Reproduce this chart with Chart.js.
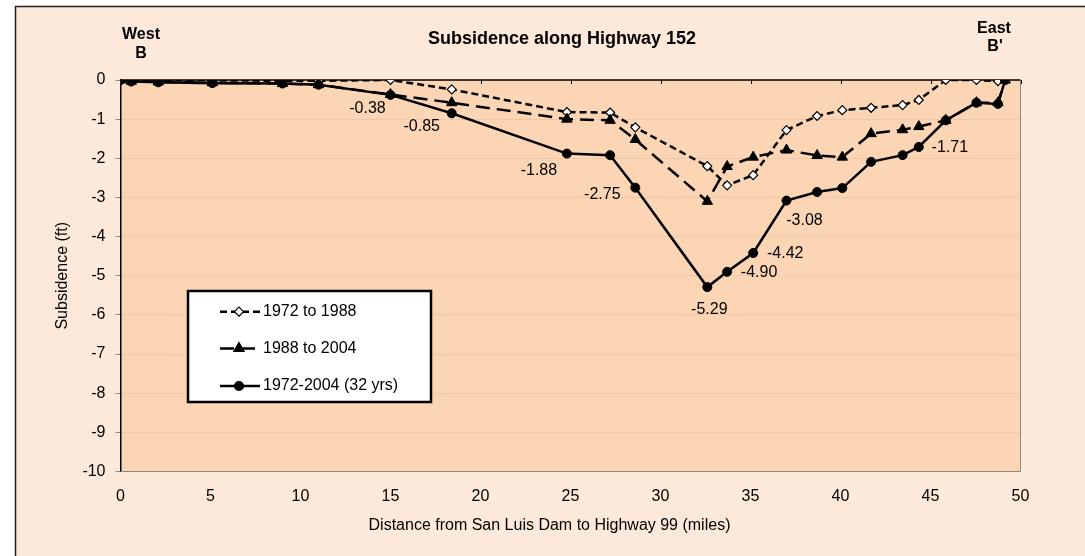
<!DOCTYPE html>
<html><head><meta charset="utf-8">
<script src="https://cdn.jsdelivr.net/npm/chart.js@4.4.0/dist/chart.umd.min.js"></script>
<style>html,body{margin:0;padding:0;background:#fff}canvas{display:block}</style>
</head><body>
<canvas id="c" width="1085" height="556"></canvas>
<script>
// ---------- data ----------
const distances = [0, 0.6, 2.1, 5.1, 9.0, 11.0, 15.0, 18.4, 24.8, 27.2, 28.6, 32.6, 33.7, 35.15, 37.0, 38.7, 40.1, 41.7, 43.45, 44.35, 45.85, 47.55, 48.75, 49.15];
const s1972to1988 = [0, 0, -0.01, -0.01, -0.02, -0.02, 0, -0.24, -0.82, -0.83, -1.21, -2.20, -2.69, -2.43, -1.28, -0.92, -0.77, -0.71, -0.64, -0.51, 0, 0, -0.03, 0];
const s1988to2004 = [0, -0.03, -0.05, -0.07, -0.09, -0.12, -0.37, -0.58, -1.00, -1.03, -1.52, -3.10, -2.21, -1.97, -1.79, -1.93, -1.97, -1.37, -1.27, -1.19, -1.03, -0.58, -0.58, 0];
const s1972to2004 = [0, -0.04, -0.06, -0.08, -0.09, -0.12, -0.38, -0.85, -1.88, -1.92, -2.75, -5.29, -4.90, -4.42, -3.08, -2.86, -2.76, -2.09, -1.92, -1.71, -1.03, -0.58, -0.61, 0];
const seriesNames = ['1972 to 1988', '1988 to 2004', '1972-2004 (32 yrs)'];
const xTickValues = [0, 5, 10, 15, 20, 25, 30, 35, 40, 45, 50];
const yTickValues = [0, -1, -2, -3, -4, -5, -6, -7, -8, -9, -10];
const chartTitle = 'Subsidence along Highway 152';
const xAxisTitle = 'Distance from San Luis Dam to Highway 99 (miles)';
const yAxisTitle = 'Subsidence (ft)';
const westLabel = ['West', 'B'];
const eastLabel = ['East', "B'"];
const labeledPoints = [6, 7, 8, 10, 11, 12, 13, 14, 19];

// ---------- styling ----------
const FONT = "'Liberation Sans', Arial, Helvetica, sans-serif";
Chart.defaults.font.family = FONT;
Chart.defaults.font.size = 16;
Chart.defaults.color = '#000';
const labelOffsets = {6:[-23,14],7:[-30,13],8:[-28,17],10:[-33,7],11:[2,22],12:[32,1],13:[32,1],14:[18,20],19:[31,1]};

function pts(arr){ return distances.map((d,i)=>({x:d, y:arr[i]})); }

function drawMarker(ctx, style, r, x, y, fill){
  ctx.save();
  ctx.fillStyle = fill; ctx.strokeStyle = '#000'; ctx.lineWidth = 1.2; ctx.setLineDash([]);
  ctx.beginPath();
  if (style === 'circle') { ctx.arc(x, y, r, 0, Math.PI*2); }
  else if (style === 'triangle') {
    for (let k=0;k<3;k++){ const a = k*2*Math.PI/3; const px = x + Math.sin(a)*r, py = y - Math.cos(a)*r; k?ctx.lineTo(px,py):ctx.moveTo(px,py); }
    ctx.closePath();
  } else { ctx.moveTo(x, y-r); ctx.lineTo(x+r, y); ctx.lineTo(x, y+r); ctx.lineTo(x-r, y); ctx.closePath(); }
  ctx.fill(); ctx.stroke();
  ctx.restore();
}

const deco = {
  id: 'deco',
  beforeDraw(chart){
    const {ctx, chartArea:a} = chart;
    ctx.save();
    ctx.fillStyle = '#fff'; ctx.fillRect(0,0,chart.width,chart.height);
    ctx.fillStyle = '#FDE9D9'; ctx.fillRect(15.5,6.5,1200,700);
    ctx.strokeStyle = '#222'; ctx.lineWidth = 1.5; ctx.strokeRect(15.5,6.5,1200,700);
    ctx.fillStyle = '#FCD5B5'; ctx.fillRect(a.left, a.top, a.right-a.left, a.bottom-a.top);
    ctx.restore();
  },
  beforeDatasetsDraw(chart){
    const {ctx, chartArea:a, scales} = chart;
    const x = scales.x, y = scales.y;
    ctx.save();
    ctx.strokeStyle = '#8a8a8a'; ctx.lineWidth = 1;
    ctx.beginPath(); ctx.moveTo(a.left, a.bottom); ctx.lineTo(a.right, a.bottom); ctx.lineTo(a.right, a.top); ctx.stroke();
    const y0 = y.getPixelForValue(0);
    ctx.strokeStyle = '#000'; ctx.lineWidth = 1.5;
    ctx.beginPath(); ctx.moveTo(a.left, y0); ctx.lineTo(a.right, y0); ctx.stroke();
    ctx.lineWidth = 1;
    xTickValues.forEach(v => { const px = Math.round(x.getPixelForValue(v)) + 0.5; ctx.beginPath(); ctx.moveTo(px, y0); ctx.lineTo(px, y0+4); ctx.stroke(); });
    ctx.restore();
  },
  afterDatasetsDraw(chart){
    const {ctx} = chart;
    const meta = chart.getDatasetMeta(2);
    ctx.save();
    ctx.font = '16px ' + FONT; ctx.fillStyle = '#000'; ctx.textAlign = 'center'; ctx.textBaseline = 'middle';
    labeledPoints.forEach(i => {
      const p = meta.data[i]; const o = labelOffsets[i];
      ctx.fillText(s1972to2004[i].toFixed(2), p.x + o[0], p.y + o[1]);
    });
    ctx.restore();
  },
  afterDraw(chart){
    const {ctx, chartArea:a} = chart;
    ctx.save();
    ctx.fillStyle = '#000'; ctx.textAlign = 'center'; ctx.textBaseline = 'middle';
    ctx.font = 'bold 18px ' + FONT; ctx.fillText(chartTitle, 562, 39);
    ctx.font = 'bold 16px ' + FONT;
    ctx.fillText(westLabel[0], 141, 35); ctx.fillText(westLabel[1], 141, 54);
    ctx.fillText(eastLabel[0], 994, 29); ctx.fillText(eastLabel[1], 995, 47);
    ctx.font = '16px ' + FONT;
    ctx.fillText(xAxisTitle, 549.5, 526);
    ctx.save(); ctx.translate(63, (a.top + a.bottom)/2); ctx.rotate(-Math.PI/2); ctx.fillText(yAxisTitle, 0, 0); ctx.restore();
    // legend
    const L = {x1:188, y1:291, x2:431, y2:402};
    ctx.fillStyle = '#fff'; ctx.fillRect(L.x1, L.y1, L.x2-L.x1, L.y2-L.y1);
    ctx.strokeStyle = '#000'; ctx.lineWidth = 2.5; ctx.strokeRect(L.x1, L.y1, L.x2-L.x1, L.y2-L.y1);
    const rows = [311.7, 348.5, 386];
    chart.data.datasets.forEach((ds, k) => {
      const yy = rows[k];
      ctx.save();
      ctx.strokeStyle = '#000'; ctx.lineWidth = ds.borderWidth; ctx.setLineDash(ds.borderDash || []);
      ctx.beginPath(); ctx.moveTo(220, yy); ctx.lineTo(260, yy); ctx.stroke();
      ctx.restore();
      drawMarker(ctx, ds.pointStyle, ds.pointRadius, 239, yy, ds.pointBackgroundColor);
      ctx.fillStyle = '#000'; ctx.textAlign = 'left'; ctx.font = '16px ' + FONT;
      ctx.fillText(ds.label, 263, yy);
    });
    ctx.restore();
  }
};

new Chart(document.getElementById('c'), {
  type: 'line',
  data: {
    datasets: [
      { label: seriesNames[0], data: pts(s1972to1988), borderColor: '#000', borderWidth: 2.5, borderDash: [7,4],
        pointStyle: 'rectRot', pointRadius: 4.5, pointBackgroundColor: '#fff', pointBorderColor: '#000', pointBorderWidth: 1.2, order: 3 },
      { label: seriesNames[1], data: pts(s1988to2004), borderColor: '#000', borderWidth: 2.5, borderDash: [14,7],
        pointStyle: 'triangle', pointRadius: 6, pointBackgroundColor: '#000', pointBorderColor: '#000', pointBorderWidth: 1, order: 2 },
      { label: seriesNames[2], data: pts(s1972to2004), borderColor: '#000', borderWidth: 2.5,
        pointStyle: 'circle', pointRadius: 4.5, pointBackgroundColor: '#000', pointBorderColor: '#000', pointBorderWidth: 1, order: 1 }
    ]
  },
  options: {
    responsive: false, animation: false, events: [],
    layout: { padding: { left: 0, top: 80, right: 64.5, bottom: 0 } },
    plugins: { legend: { display: false }, title: { display: false }, tooltip: { enabled: false } },
    elements: { line: { tension: 0, fill: false, borderCapStyle: 'butt' } },
    scales: {
      x: {
        type: 'linear', min: 0, max: 50, position: 'bottom',
        afterBuildTicks: s => { s.ticks = xTickValues.map(v => ({value: v})); },
        ticks: { padding: 15, font: { size: 16 }, color: '#000', callback: v => String(v) },
        grid: { display: false, drawTicks: false }, border: { display: false },
        afterFit: s => { s.height = 84.5; }
      },
      y: {
        type: 'linear', min: -10, max: 0,
        afterBuildTicks: s => { s.ticks = yTickValues.map(v => ({value: v})); },
        ticks: { padding: 10, font: { size: 16 }, color: '#000', callback: v => String(v) },
        grid: { color: '#EFC8AA', lineWidth: 1, tickColor: '#8a8a8a', tickLength: 5, drawTicks: true },
        border: { display: true, color: '#000', width: 1.5 },
        afterFit: s => { s.width = 120.5; }
      }
    }
  },
  plugins: [deco]
});
</script>
</body></html>
